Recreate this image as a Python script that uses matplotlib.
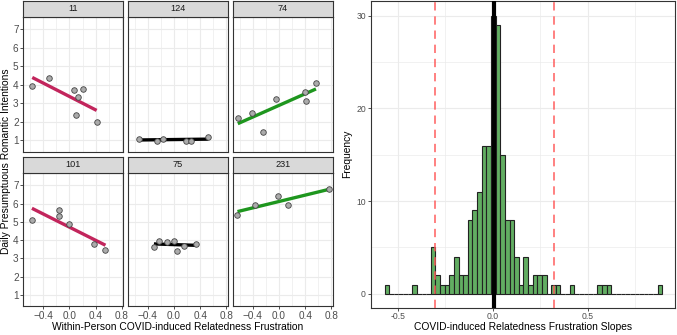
import numpy as np
import matplotlib
matplotlib.use("Agg")
import matplotlib.pyplot as plt

plt.rcParams['font.family'] = ['Liberation Sans', 'DejaVu Sans']

W, H = 677, 335

# facet data (person-centred frustration vs. daily intentions)
facet_ids = ["11", "124", "74", "101", "75", "231"]
x_11 = [-0.564, -0.303, 0.067, 0.200, 0.133, 0.103, 0.415]
y_11 = [3.91, 4.38, 3.69, 3.78, 3.32, 2.38, 1.99]
x_124 = [-0.530, -0.256, -0.168, 0.180, 0.255, 0.522]
y_124 = [1.07, 0.97, 1.09, 0.97, 0.97, 1.17]
x_74 = [-0.631, -0.421, -0.251, -0.041, 0.395, 0.405, 0.564]
y_74 = [2.22, 2.47, 1.46, 3.23, 3.62, 3.14, 4.07]
x_101 = [-0.569, -0.154, -0.159, 0.000, 0.379, 0.549]
y_101 = [5.08, 5.65, 5.33, 4.86, 3.78, 3.48]
x_75 = [-0.308, -0.231, -0.103, 0.000, 0.051, 0.149, 0.333]
y_75 = [3.61, 3.95, 3.89, 3.95, 3.41, 3.68, 3.78]
x_231 = [-0.636, -0.374, -0.015, 0.144, 0.759]
y_231 = [5.40, 5.94, 6.41, 5.94, 6.78]
facet_x = [x_11, x_124, x_74, x_101, x_75, x_231]
facet_y = [y_11, y_124, y_74, y_101, y_75, y_231]
facet_col = ["#C2255C", "black", "#1E961E", "#C2255C", "black", "#1E961E"]

# histogram of slopes
bin_start = -0.572
bin_width = 0.02445
slope_counts = [1, 0, 0, 0, 0, 0, 1, 0, 0, 0,
                5, 2, 1, 1, 2, 4, 2, 2, 8, 9,
                11, 16, 16, 30, 29, 15, 8, 8, 4, 1,
                4, 1, 2, 2, 2, 0, 1, 1, 0, 0,
                1, 0, 0, 0, 0, 0, 1, 1, 1, 0,
                0, 0, 0, 0, 0, 0, 0, 0, 0, 1]
mean_slope = 0.008
band = 0.315


def box(x0, y0, x1, y1):
    '''pixel box -> figure fraction rect'''
    return [x0 / W, 1 - y1 / H, (x1 - x0) / W, (y1 - y0) / H]


def style_axes(ax, size):
    for s in ax.spines.values():
        s.set_color("#333333")
        s.set_linewidth(0.8)
    ax.tick_params(length=2.2, width=0.6, color="#333333", labelsize=size,
                   labelcolor="#4D4D4D", pad=1.2)
    ax.grid(True, which="major", color="#EBEBEB", lw=0.8)
    ax.grid(True, which="minor", color="#EBEBEB", lw=0.5)
    ax.set_axisbelow(True)


fig = plt.figure(figsize=(W / 100, H / 100), dpi=100)

cols = [(23.3, 123.3), (128.3, 227.7), (233.3, 332.7)]
rows = [((1, 16.7), (16.7, 151.7)), ((156.7, 173.3), (173.3, 306))]

for i in range(6):
    r, c = divmod(i, 3)
    (sy0, sy1), (py0, py1) = rows[r]
    x0, x1 = cols[c]
    ax = fig.add_axes(box(x0, py0, x1, py1))
    style_axes(ax, 7.2)
    ax.set_xlim(-0.70, 0.82)
    ax.set_ylim(0.385, 7.66)
    ax.set_xticks([-0.4, 0.0, 0.4, 0.8])
    ax.set_xticks([-0.6, -0.2, 0.2, 0.6], minor=True)
    ax.set_yticks(range(1, 8))
    ax.tick_params(which="minor", length=0)
    if c != 0:
        ax.tick_params(axis="y", length=0, labelleft=False)
    if r == 0:
        ax.tick_params(axis="x", length=0, labelbottom=False)
    xs = np.array(facet_x[i])
    ys = np.array(facet_y[i])
    k, b = np.polyfit(xs, ys, 1)
    xl = np.array([xs.min(), xs.max()])
    ax.plot(xl, k * xl + b, color=facet_col[i], lw=2.4, solid_capstyle="butt", zorder=2)
    ax.scatter(xs, ys, s=16, facecolor="#ABABAB", edgecolor="#444444", lw=0.6, zorder=3)

    sax = fig.add_axes(box(x0, sy0, x1, sy1))
    sax.set_facecolor("#D9D9D9")
    sax.set_xticks([])
    sax.set_yticks([])
    for s in sax.spines.values():
        s.set_color("#333333")
        s.set_linewidth(0.8)
    sax.text(0.5, 0.5, facet_ids[i], ha="center", va="center", fontsize=6.6,
             color="#1A1A1A", transform=sax.transAxes)

fig.text(6 / W, 1 - 161 / H, "Daily Presumptuous Romantic Intentions", rotation=90,
         ha="center", va="center", fontsize=7.4)
fig.text(178 / W, 1 - 327 / H, "Within-Person COVID-induced Relatedness Frustration",
         ha="center", va="center", fontsize=7.4)

# histogram panel
hx = fig.add_axes(box(370.7, 1, 675, 307.7))
style_axes(hx, 6.2)
edges = bin_start + bin_width * np.arange(len(slope_counts) + 1)
hx.bar(edges[:-1], slope_counts, width=bin_width, align="edge", color="#62AD62",
       edgecolor="#222222", lw=0.8, zorder=2)
hx.axvline(mean_slope, color="black", lw=3, zorder=4)
for v in (mean_slope - band, mean_slope + band):
    hx.axvline(v, color="#FF5A5A", lw=1.2, dashes=(5, 3.5), alpha=0.9, zorder=5)
hx.set_xlim(-0.645, 0.962)
hx.set_ylim(-1.5, 31.6)
hx.set_xticks([-0.5, 0.0, 0.5])
hx.set_xticklabels(["-0.5", "0.0", "0.5"])
hx.set_xticks([-0.25, 0.25, 0.75], minor=True)
hx.set_yticks([0, 10, 20, 30])
hx.set_yticks([5, 15, 25], minor=True)
hx.tick_params(which="minor", length=0)
fig.text(523 / W, 1 - 327 / H, "COVID-induced Relatedness Frustration Slopes",
         ha="center", va="center", fontsize=7.4)
fig.text(347 / W, 1 - 154 / H, "Frequency", rotation=90,
         ha="center", va="center", fontsize=7.4)

fig.savefig("out.png", dpi=100)
